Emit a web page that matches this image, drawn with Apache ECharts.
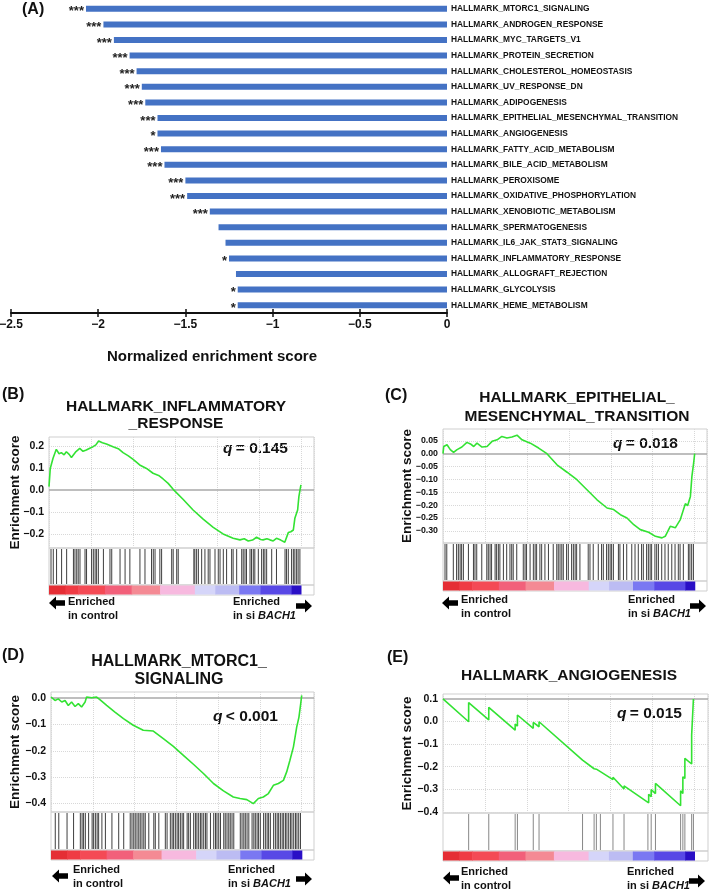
<!DOCTYPE html>
<html><head><meta charset="utf-8">
<script src="https://cdn.jsdelivr.net/npm/echarts@6/dist/echarts.min.js"></script>
<style>html,body{margin:0;padding:0;background:#fff}#c{width:709px;height:890px}</style>
</head><body><div id="c"></div>
<script>
// ---------------- DATA ----------------
const pathways = ['HALLMARK_MTORC1_SIGNALING','HALLMARK_ANDROGEN_RESPONSE','HALLMARK_MYC_TARGETS_V1','HALLMARK_PROTEIN_SECRETION','HALLMARK_CHOLESTEROL_HOMEOSTASIS','HALLMARK_UV_RESPONSE_DN','HALLMARK_ADIPOGENESIS','HALLMARK_EPITHELIAL_MESENCHYMAL_TRANSITION','HALLMARK_ANGIOGENESIS','HALLMARK_FATTY_ACID_METABOLISM','HALLMARK_BILE_ACID_METABOLISM','HALLMARK_PEROXISOME','HALLMARK_OXIDATIVE_PHOSPHORYLATION','HALLMARK_XENOBIOTIC_METABOLISM','HALLMARK_SPERMATOGENESIS','HALLMARK_IL6_JAK_STAT3_SIGNALING','HALLMARK_INFLAMMATORY_RESPONSE','HALLMARK_ALLOGRAFT_REJECTION','HALLMARK_GLYCOLYSIS','HALLMARK_HEME_METABOLISM'];
const nes = [-2.07,-1.97,-1.91,-1.82,-1.78,-1.75,-1.73,-1.66,-1.66,-1.64,-1.62,-1.50,-1.49,-1.36,-1.31,-1.27,-1.25,-1.21,-1.20,-1.20];
const stars = ['***','***','***','***','***','***','***','***','*','***','***','***','***','***','','','*','','*','*'];
const nesTicks = [-2.5,-2,-1.5,-1,-0.5,0];

// ranked list colour bar (rank % breakpoints)
const colorBreaks = [0,6.5,11.6,22.2,32.8,44.1,57.9,66.0,75.5,84.0,96.3,100];

// running enrichment score curves [rank %, ES]
const curveB = [[0,0.015],[0.5,0.098],[1.6,0.144],[2.9,0.185],[4.0,0.165],[4.9,0.170],[6.0,0.160],[6.9,0.174],[8.0,0.162],[8.9,0.148],[10.5,0.172],[12.2,0.189],[13.5,0.176],[14.8,0.182],[16.2,0.190],[17.5,0.197],[18.6,0.205],[19.7,0.223],[21.2,0.215],[22.8,0.209],[25.4,0.197],[27.5,0.188],[29.4,0.170],[31.5,0.155],[33.4,0.139],[36.0,0.114],[38.7,0.098],[41.3,0.076],[43.5,0.066],[45.3,0.050],[47.3,0.030],[49.3,0.003],[53.2,-0.042],[57.2,-0.091],[61.2,-0.133],[65.2,-0.170],[69.1,-0.200],[73.1,-0.220],[75.8,-0.227],[77.5,-0.222],[79.1,-0.232],[80.8,-0.228],[82.4,-0.215],[84.0,-0.225],[85.0,-0.227],[86.5,-0.222],[87.7,-0.227],[89.0,-0.232],[90.3,-0.220],[92.0,-0.228],[93.6,-0.238],[95.0,-0.194],[96.0,-0.190],[97.0,-0.182],[97.6,-0.129],[98.7,-0.091],[99.2,-0.030],[100,0.023]];
const curveC = [[0,0],[0.3,0.028],[1.6,0.035],[2.9,0.016],[4.2,0.005],[5.6,0.016],[7.5,0.026],[9.5,0.044],[10.9,0.038],[12.2,0.028],[13.5,0.041],[15.5,0.026],[17.5,0.028],[19.5,0.048],[21.5,0.054],[23.4,0.067],[25.4,0.061],[27.4,0.065],[29.4,0.072],[31.4,0.054],[34.7,0.041],[38.0,0.022],[41.3,0.0],[45.3,-0.043],[49.3,-0.072],[53.2,-0.101],[57.2,-0.140],[61.2,-0.179],[65.2,-0.211],[67.8,-0.217],[70.5,-0.237],[73.1,-0.250],[75.8,-0.276],[78.4,-0.295],[81.7,-0.305],[84.4,-0.321],[87.0,-0.327],[88.3,-0.321],[90.3,-0.282],[92.3,-0.288],[94.3,-0.256],[96.3,-0.194],[97.2,-0.202],[98.3,-0.166],[98.9,-0.088],[99.6,-0.036],[100,0]];
const curveD = [[0,0.004],[1.6,-0.009],[2.9,-0.003],[4.3,-0.015],[5.6,-0.009],[6.9,-0.028],[8.2,-0.015],[9.6,-0.032],[10.9,-0.021],[12.2,-0.034],[13.6,-0.015],[14.2,0.004],[16.2,0.001],[18.2,0.004],[19.5,-0.006],[22.2,-0.028],[25.5,-0.053],[28.9,-0.078],[32.8,-0.103],[36.8,-0.122],[40.8,-0.125],[44.8,-0.154],[48.8,-0.183],[52.8,-0.217],[56.8,-0.251],[60.8,-0.286],[64.8,-0.324],[68.8,-0.352],[72.7,-0.375],[75.4,-0.381],[78.1,-0.385],[80.7,-0.400],[82.7,-0.381],[84.7,-0.375],[86.7,-0.362],[88.7,-0.331],[90.7,-0.324],[92.7,-0.312],[94.0,-0.280],[95.3,-0.236],[96.7,-0.185],[98.0,-0.110],[98.9,-0.072],[99.6,-0.021],[100,0.010]];
const curveE = [[0,0.100],[10.2,-0.001],[10.2,0.084],[18.2,0.007],[18.2,0.063],[28.7,-0.038],[28.7,-0.011],[29.6,-0.020],[29.6,0.029],[35.9,-0.030],[35.9,-0.004],[38.2,-0.023],[38.2,-0.001],[55.5,-0.171],[55.5,-0.163],[60.1,-0.209],[60.1,-0.202],[61.0,-0.211],[61.0,-0.206],[62.6,-0.222],[62.6,-0.214],[67.6,-0.257],[67.6,-0.247],[72.0,-0.299],[72.0,-0.285],[81.8,-0.360],[81.8,-0.322],[82.8,-0.333],[82.8,-0.301],[84.5,-0.319],[84.5,-0.274],[94.5,-0.373],[94.5,-0.307],[95.4,-0.319],[95.4,-0.245],[96.2,-0.252],[96.2,-0.163],[98.9,-0.188],[98.9,-0.060],[99.6,-0.067],[99.6,0.100]];

// gene-set hit positions (rank %)
const hitsB = [0.8,1.7,3.0,5.0,7.0,9.7,10.3,11.0,11.6,12.3,14.3,14.9,16.9,17.6,18.3,18.9,19.6,21.6,24.2,24.9,28.2,30.2,32.1,36.1,38.1,40.7,41.4,42.1,44.0,44.7,48.7,49.3,50.7,51.3,57.5,57.9,58.6,59.3,60.6,61.9,63.2,63.9,65.9,67.2,67.9,69.2,70.5,72.5,73.1,74.5,76.5,77.1,77.8,78.4,79.8,80.4,81.1,81.7,83.1,84.4,85.1,85.7,86.4,88.4,90.3,93.7,94.3,95.0,96.3,97.0,97.6,98.3,98.9,99.6];
const hitsC = [0.8,1.5,4.1,5.4,6.1,6.8,7.4,8.1,10.1,12.1,12.7,13.4,15.4,17.4,18.0,18.7,19.3,20.7,21.3,22.0,22.6,24.0,25.3,26.6,27.3,27.9,29.3,31.9,32.6,33.2,34.6,35.9,36.6,37.2,38.5,39.2,40.5,41.9,43.8,45.2,45.8,46.5,47.2,47.8,49.1,49.8,51.1,51.8,52.5,53.1,54.4,57.7,58.4,59.7,61.7,63.0,63.7,65.0,65.7,66.4,67.0,67.7,69.7,70.3,71.7,73.0,75.0,76.3,77.6,78.9,79.6,80.9,81.6,82.3,82.9,84.2,84.9,85.6,86.9,88.2,89.5,90.9,92.2,93.5,94.2,95.5,97.5,98.1,98.8,99.5];
const hitsD = [1.7,3.1,6.4,9.0,11.7,12.4,13.0,13.7,15.0,16.4,17.0,17.7,18.4,19.0,20.3,21.7,24.3,27.0,29.0,31.6,32.3,33.0,33.6,34.3,35.0,35.6,36.3,37.0,37.6,39.0,41.0,41.6,43.0,45.6,46.3,47.6,48.3,48.9,49.6,50.3,50.9,51.6,52.3,52.9,54.3,54.9,55.6,56.9,57.6,58.2,58.9,59.6,60.2,60.9,61.6,62.2,63.6,64.9,65.6,66.2,66.9,67.6,68.9,69.5,70.2,70.9,71.5,72.2,72.9,75.5,76.2,76.9,77.5,78.2,78.9,80.2,80.9,81.5,82.2,82.8,83.5,84.8,85.5,86.2,86.8,87.5,88.8,89.5,90.2,90.8,91.5,92.2,92.8,93.5,94.1,94.8,95.5,96.1,96.8,97.5,98.1,98.8,99.5];
const hitsE = [10.2,18.2,28.7,29.6,35.9,38.2,55.5,60.1,61.0,62.6,67.6,72.0,81.5,82.8,84.5,94.5,95.4,96.2,98.9,99.6];

const ticksB = [-0.2,-0.1,0,0.1,0.2];
const ticksC = [-0.30,-0.25,-0.20,-0.15,-0.10,-0.05,0,0.05];
const ticksD = [-0.4,-0.3,-0.2,-0.1,0];
const ticksE = [-0.4,-0.3,-0.2,-0.1,0,0.1];

const titleB = ['HALLMARK_INFLAMMATORY','_RESPONSE'];
const titleC = ['HALLMARK_EPITHELIAL_','MESENCHYMAL_TRANSITION'];
const titleD = ['HALLMARK_MTORC1_','SIGNALING'];
const titleE = ['HALLMARK_ANGIOGENESIS'];
const qB = '= 0.145', qC = '= 0.018', qD = '< 0.001', qE = '= 0.015';

// ---------------- STYLE / LAYOUT ----------------
const FONT = '"Liberation Sans", Arial, sans-serif';
const cbColors = ['#e52e35','#ef3b44','#f44a55','#f2607a','#f48a94','#f7b9df','#d5d5f9','#bcbcf3','#7a78f2','#5848e6','#2a0fc6'];
const panels = [
  {curve:curveB, hits:hitsB, ticks:ticksB, dec:1, title:titleB, q:qB, zero:0,
   L:49, T:437, W:265, esH:111, hitH:37, cbH:10, xMax:105.2, yMin:-0.264, yMax:0.241, lbl:10.5, hitColor:'#2a2a2a', nameGap:27,
   tx:176, ty:[407,424], tSize:15.5, tag:'(B)', tagX:2, tagY:395, qx:223, qy:449, exL:68, exR:233, ey:602, arrY:603, arrL:49, arrR:312},
  {curve:curveC, hits:hitsC, ticks:ticksC, dec:2, title:titleC, q:qC, zero:0,
   L:443, T:429, W:264, esH:114, hitH:38, cbH:10, xMax:104.9, yMin:-0.347, yMax:0.096, lbl:8.8, hitColor:'#2a2a2a', nameGap:29,
   tx:577, ty:[398,417], tSize:15.5, tag:'(C)', tagX:385, tagY:396, qx:613, qy:444, exL:461, exR:628, ey:600, arrY:603, arrL:442, arrR:706},
  {curve:curveD, hits:hitsD, ticks:ticksD, dec:1, title:titleD, q:qD, zero:0,
   L:51, T:692, W:263, esH:120, hitH:38, cbH:10, xMax:104.9, yMin:-0.432, yMax:0.023, lbl:10.5, hitColor:'#2a2a2a', nameGap:29,
   tx:179, ty:[662,680], tSize:16, tag:'(D)', tagX:2, tagY:656, qx:213, qy:717, exL:73, exR:228, ey:870, arrY:876, arrL:52, arrR:312},
  {curve:curveE, hits:hitsE, ticks:ticksE, dec:1, title:titleE, q:qE, zero:0.1,
   L:443, T:694, W:265, esH:119, hitH:38, cbH:10, xMax:105.4, yMin:-0.405, yMax:0.122, lbl:10.5, hitColor:'#7a7a7a', nameGap:29,
   tx:569, ty:[676], tSize:15.5, tag:'(E)', tagX:387, tagY:658, qx:617, qy:714, exL:461, exR:627, ey:872, arrY:878, arrL:443, arrR:705}
];

const minus = v => (v < 0 ? '\u2212' : '');

// ---------------- OPTION ----------------
const grid = [], xAxis = [], yAxis = [], series = [], graphic = [];

// Panel A
grid.push({left:11, top:1, width:436, height:312, containLabel:false, outerBoundsMode:'none'});
xAxis.push({gridIndex:0, type:'value', position:'bottom', min:-2.5, max:0, interval:0.5,
  axisLine:{show:true, onZero:false, lineStyle:{color:'#111', width:2}},
  axisTick:{show:true, length:4, lineStyle:{color:'#111', width:1.5}},
  axisLabel:{show:true, margin:6, fontSize:12, fontWeight:'bold', fontFamily:FONT, color:'#111',
    formatter: v => minus(v) + Math.abs(v)},
  splitLine:{show:false}});
xAxis.push({gridIndex:0, type:'value', position:'bottom', min:-2.5, max:0, interval:0.5,
  axisLine:{show:false}, axisTick:{show:true, inside:true, length:4, lineStyle:{color:'#111', width:1.5}},
  axisLabel:{show:false}, splitLine:{show:false}});
yAxis.push({gridIndex:0, type:'category', data:pathways, inverse:true, position:'right',
  axisLine:{show:false}, axisTick:{show:false},
  axisLabel:{show:true, margin:4, fontSize:8.4, fontWeight:'bold', fontFamily:FONT, color:'#111'}});
series.push({type:'bar', xAxisIndex:0, yAxisIndex:0, data:nes, barWidth:6,
  itemStyle:{color:'#4472c4'},
  label:{show:true, position:'left', distance:2, fontSize:13, fontWeight:'bold', fontFamily:FONT, color:'#222',
    offset:[0,3], formatter: p => stars[p.dataIndex]}});
graphic.push({type:'text', x:212, y:357, style:{text:'Normalized enrichment score', fontSize:15, fontWeight:'bold', fontFamily:FONT, fill:'#111', align:'center', verticalAlign:'middle'}});
graphic.push({type:'text', x:22, y:10, style:{text:'(A)', fontSize:16, fontWeight:'bold', fontFamily:FONT, fill:'#111', align:'left', verticalAlign:'middle'}});

function leftArrow(x0, cy){
  return {type:'polygon', shape:{points:[[x0,cy],[x0+7,cy-6.5],[x0+7,cy-2.7],[x0+16,cy-2.7],[x0+16,cy+2.7],[x0+7,cy+2.7],[x0+7,cy+6.5]]}, style:{fill:'#000'}};
}
function rightArrow(x1, cy){
  return {type:'polygon', shape:{points:[[x1,cy],[x1-7,cy-6.5],[x1-7,cy-2.7],[x1-16,cy-2.7],[x1-16,cy+2.7],[x1-7,cy+2.7],[x1-7,cy+6.5]]}, style:{fill:'#000'}};
}

const segs = colorBreaks.slice(0,-1).map((b,i) => [b, colorBreaks[i+1], i]);

panels.forEach((p, k) => {
  const gES = grid.length;
  grid.push({left:p.L, top:p.T, width:p.W, height:p.esH, show:true, borderColor:'#cfcfcf', borderWidth:1, containLabel:false, outerBoundsMode:'none'});
  grid.push({left:p.L, top:p.T+p.esH, width:p.W, height:p.hitH, show:true, borderColor:'#cfcfcf', borderWidth:1, containLabel:false, outerBoundsMode:'none'});
  grid.push({left:p.L, top:p.T+p.esH+p.hitH, width:p.W, height:p.cbH, show:true, borderColor:'#cfcfcf', borderWidth:1, containLabel:false, outerBoundsMode:'none'});
  const xi = xAxis.length, yi = yAxis.length;
  for (let j=0;j<3;j++){
    xAxis.push({gridIndex:gES+j, type:'value', min:0, max:p.xMax, interval:100/6,
      axisLine:{show:false}, axisTick:{show:false}, axisLabel:{show:false},
      splitLine:{show:j===0, lineStyle:{type:'dotted', color:'#d8d8d8', width:1}}});
  }
  yAxis.push({gridIndex:gES, type:'value', min:p.yMin, max:p.yMax,
    name:'Enrichment score', nameLocation:'middle', nameGap:p.nameGap, nameRotate:90, nameMoveOverlap:false,
    nameTextStyle:{fontSize:13.5, fontWeight:'bold', fontFamily:FONT, color:'#111'},
    axisLine:{show:false}, axisTick:{show:false}, splitLine:{show:false},
    axisLabel:{show:true, customValues:p.ticks, margin:5, fontSize:p.lbl, fontWeight:'bold', fontFamily:FONT, color:'#111',
      formatter: v => minus(v) + Math.abs(v).toFixed(p.dec)}});
  yAxis.push({gridIndex:gES+1, type:'value', min:0, max:1, axisLine:{show:false}, axisTick:{show:false}, axisLabel:{show:false}, splitLine:{show:false}});
  yAxis.push({gridIndex:gES+2, type:'value', min:0, max:1, axisLine:{show:false}, axisTick:{show:false}, axisLabel:{show:false}, splitLine:{show:false}});

  const ml = p.ticks.filter(v => v !== p.zero).map(v => ({yAxis:v, lineStyle:{type:'dotted', color:'#d8d8d8', width:1}}));
  ml.push({yAxis:p.zero, lineStyle:{type:'solid', color:'#a8a8a8', width:1.6}});
  series.push({type:'line', xAxisIndex:xi, yAxisIndex:yi, data:p.curve, showSymbol:false, z:5,
    lineStyle:{color:'#33e233', width:1.6}, itemStyle:{color:'#33e233'},
    markLine:{silent:true, symbol:['none','none'], label:{show:false}, z:1, data:ml}});
  series.push({type:'scatter', xAxisIndex:xi+1, yAxisIndex:yi+1, data:p.hits.map(h => [h, 0.5]),
    symbol:'rect', symbolSize:[1, p.hitH-2], itemStyle:{color:p.hitColor, opacity:0.9}, silent:true});
  series.push({type:'custom', xAxisIndex:xi+2, yAxisIndex:yi+2, data:segs, silent:true,
    renderItem:(params, api) => {
      const s = api.coord([api.value(0), 0]);
      const e = api.coord([api.value(1), 1]);
      return {type:'rect', shape:{x:s[0], y:e[1]+0.5, width:e[0]-s[0]+0.6, height:s[1]-e[1]-1}, style:{fill:cbColors[api.value(2)]}};
    }});

  // texts
  graphic.push({type:'text', x:p.tagX, y:p.tagY, style:{text:p.tag, fontSize:16, fontWeight:'bold', fontFamily:FONT, fill:'#111', align:'left', verticalAlign:'middle'}});
  p.title.forEach((t, i) => graphic.push({type:'text', x:p.tx, y:p.ty[i], style:{text:t, fontSize:p.tSize, fontWeight:'bold', fontFamily:FONT, fill:'#111', align:'center', verticalAlign:'middle'}}));
  graphic.push({type:'text', x:p.qx, y:p.qy, style:{text:'{i|q} {n|' + p.q + '}', align:'left', verticalAlign:'middle',
    rich:{i:{fontSize:15.5, fontWeight:'bold', fontStyle:'italic', fontFamily:FONT, fill:'#111'}, n:{fontSize:15.5, fontWeight:'bold', fontFamily:FONT, fill:'#111'}}}});
  graphic.push({type:'text', x:p.exL, y:p.ey, style:{text:'Enriched', fontSize:11, fontWeight:'bold', fontFamily:FONT, fill:'#111', align:'left', verticalAlign:'middle'}});
  graphic.push({type:'text', x:p.exL, y:p.ey+13.5, style:{text:'in control', fontSize:11, fontWeight:'bold', fontFamily:FONT, fill:'#111', align:'left', verticalAlign:'middle'}});
  graphic.push({type:'text', x:p.exR, y:p.ey, style:{text:'Enriched', fontSize:11, fontWeight:'bold', fontFamily:FONT, fill:'#111', align:'left', verticalAlign:'middle'}});
  graphic.push({type:'text', x:p.exR, y:p.ey+13.5, style:{text:'{n|in si }{i|BACH1}', align:'left', verticalAlign:'middle',
    rich:{n:{fontSize:11, fontWeight:'bold', fontFamily:FONT, fill:'#111'}, i:{fontSize:11, fontWeight:'bold', fontStyle:'italic', fontFamily:FONT, fill:'#111'}}}});
  graphic.push(leftArrow(p.arrL, p.arrY));
  graphic.push(rightArrow(p.arrR, p.arrY + 3));
});

const chart = echarts.init(document.getElementById('c'), null, {renderer:'canvas'});
chart.setOption({animation:false, backgroundColor:'#fff', grid, xAxis, yAxis, series, graphic});
</script></body></html>
